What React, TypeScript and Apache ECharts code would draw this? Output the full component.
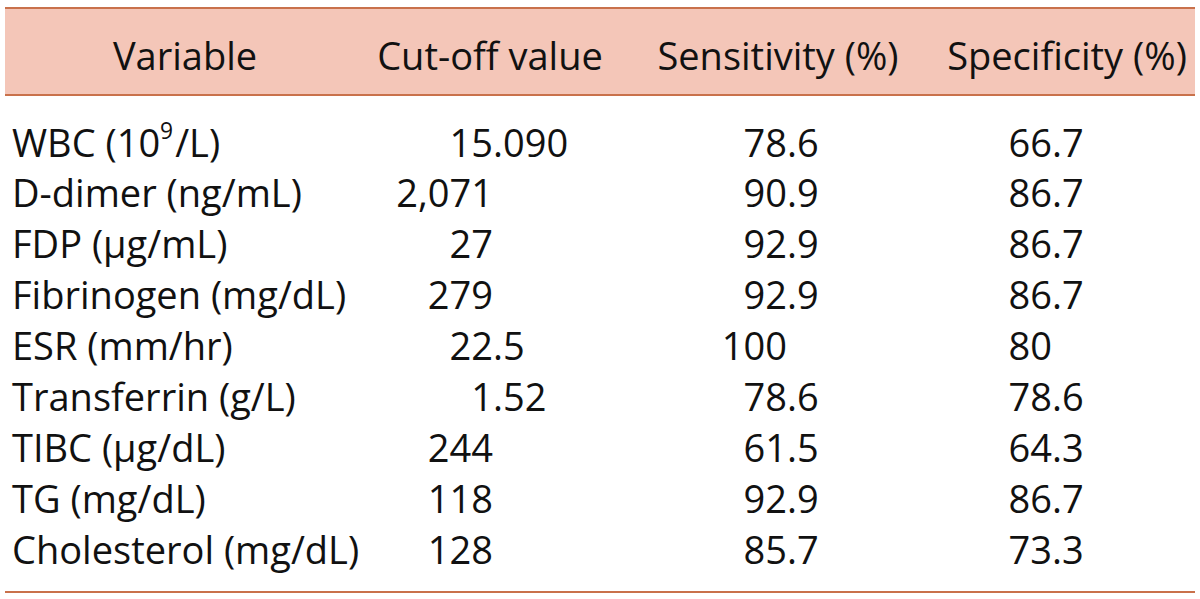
import React, { useEffect, useRef } from "react";
import * as echarts from "echarts";

const headers = ["Variable", "Cut-off value", "Sensitivity (%)", "Specificity (%)"];
const variables = ["WBC (10^9/L)", "D-dimer (ng/mL)", "FDP (μg/mL)", "Fibrinogen (mg/dL)", "ESR (mm/hr)", "Transferrin (g/L)", "TIBC (μg/dL)", "TG (mg/dL)", "Cholesterol (mg/dL)"];
const cutoffs = ["15.090", "2,071", "27", "279", "22.5", "1.52", "244", "118", "128"];
const sensitivity = ["78.6", "90.9", "92.9", "92.9", "100", "78.6", "61.5", "92.9", "85.7"];
const specificity = ["66.7", "86.7", "86.7", "86.7", "80", "78.6", "64.3", "86.7", "73.3"];

const FONT = "'Open Sans'";
const FS = 38;
const LINE = "#c9714b";
const FILL = "#f4c6b8";

function labelText(s: string) {
  const m = s.match(/^(.*)\^(\d+)(.*)$/);
  if (m) return `{n|${m[1]}}{s|${m[2]}}{n|${m[3]}}`;
  return `{n|${s}}`;
}

export default function App() {
  const ref = useRef<HTMLDivElement>(null);
  useEffect(() => {
    if (!ref.current) return;
    const chart = echarts.init(ref.current, null, { renderer: "svg" });
    const headerX = [185, 490, 778, 1067];
    const headerY = 55;
    const rowY0 = 141.5;
    const rowStep = 50.9;
    const anchors = [493, 787, 1052];
    const cols = [cutoffs, sensitivity, specificity];
    const els: any[] = [];
    els.push({ type: "rect", shape: { x: 5, y: 8, width: 1190, height: 87 }, style: { fill: FILL }, silent: true });
    els.push({ type: "line", shape: { x1: 5, y1: 8, x2: 1195, y2: 8 }, style: { stroke: LINE, lineWidth: 2 } });
    els.push({ type: "line", shape: { x1: 5, y1: 95, x2: 1195, y2: 95 }, style: { stroke: LINE, lineWidth: 2 } });
    els.push({ type: "line", shape: { x1: 5, y1: 592, x2: 1195, y2: 592 }, style: { stroke: LINE, lineWidth: 2 } });
    headers.forEach((h, i) => {
      els.push({ type: "text", x: headerX[i], y: headerY, style: { text: h, font: `${FS}px ${FONT}`, fill: "#111", align: "center", verticalAlign: "middle" } });
    });
    variables.forEach((v, r) => {
      const y = rowY0 + rowStep * r;
      els.push({
        type: "text", x: 12, y,
        style: {
          text: labelText(v), align: "left", verticalAlign: "middle",
          rich: {
            n: { fontFamily: FONT, fontSize: FS, fill: "#111", lineHeight: FS * 1.2 },
            s: { fontFamily: FONT, fontSize: FS * 0.6, fill: "#111", verticalAlign: "top", lineHeight: FS * 1.2, padding: [0, 2, 0, 0] },
          },
        },
      });
      cols.forEach((col, c) => {
        const val = col[r];
        const dot = val.indexOf(".");
        const intPart = dot >= 0 ? val.slice(0, dot) : val;
        const fracPart = dot >= 0 ? val.slice(dot) : "";
        els.push({ type: "text", x: anchors[c], y, style: { text: intPart, font: `${FS}px ${FONT}`, fill: "#111", align: "right", verticalAlign: "middle" } });
        if (fracPart) {
          els.push({ type: "text", x: anchors[c], y, style: { text: fracPart, font: `${FS}px ${FONT}`, fill: "#111", align: "left", verticalAlign: "middle" } });
        }
      });
    });
    chart.setOption({ animation: false, backgroundColor: "#ffffff", graphic: { elements: els } });
    return () => chart.dispose();
  }, []);
  return <div ref={ref} style={{ position: "fixed", left: 0, top: 0, width: 1200, height: 599 }} />;
}
